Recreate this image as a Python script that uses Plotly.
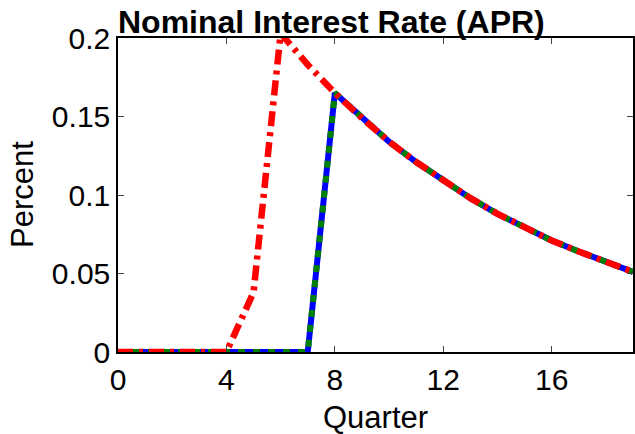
import plotly.graph_objects as go

quarters = list(range(20))
blue_vals = [0, 0, 0, 0, 0, 0, 0, 0, 0.165, 0.149, 0.134, 0.121, 0.109, 0.098,
             0.088, 0.079, 0.071, 0.064, 0.057, 0.051]
green_vals = list(blue_vals)
red_vals = [0, 0, 0, 0, 0, 0.038, 0.203, 0.183, 0.165, 0.149, 0.134, 0.121, 0.109,
            0.098, 0.088, 0.079, 0.071, 0.064, 0.057, 0.051]

x_ticks = [0, 4, 8, 12, 16]
y_ticks = [0, 0.05, 0.1, 0.15, 0.2]
y_ticktext = ["0", "0.05", "0.1", "0.15", "0.2"]

font_family = "Arial, Liberation Sans, sans-serif"

fig = go.Figure()
fig.add_trace(go.Scatter(x=quarters, y=blue_vals, mode="lines",
                         line=dict(color="#0000ff", width=6), showlegend=False))
fig.add_trace(go.Scatter(x=quarters, y=green_vals, mode="lines",
                         line=dict(color="#008000", width=6, dash="7px,8px"), showlegend=False))
fig.add_trace(go.Scatter(x=quarters, y=red_vals, mode="lines",
                         line=dict(color="#ff0000", width=6.5, dash="15px,6px,4px,6px"), showlegend=False))

fig.update_layout(
    width=635, height=434,
    margin=dict(l=118, r=2, t=38, b=82, autoexpand=False),
    paper_bgcolor="white", plot_bgcolor="white",
    font=dict(family=font_family, size=30, color="black"),
    annotations=[
        dict(text="<b>Nominal Interest Rate (APR)</b>", xref="paper", yref="paper",
             x=0, y=1, xanchor="left", yanchor="bottom", showarrow=False,
             xshift=-2, yshift=-4, font=dict(size=32, family=font_family)),
        dict(text="Percent", xref="paper", yref="paper", x=0, y=0.5,
             xanchor="center", yanchor="middle", xshift=-96, textangle=-90,
             showarrow=False, font=dict(size=31, family=font_family)),
        dict(text="Quarter", xref="paper", yref="paper", x=0.5, y=0,
             xanchor="center", yanchor="top", yshift=-46,
             showarrow=False, font=dict(size=31, family=font_family)),
    ],
)
fig.update_xaxes(range=[0, 19], tickvals=x_ticks, ticks="inside", ticklen=6, tickwidth=1,
                 showline=True, linecolor="black", linewidth=1.5, mirror="ticks",
                 showgrid=False, zeroline=False, automargin=False,
                 tickfont=dict(size=30))
fig.update_yaxes(range=[0, 0.2], tickvals=y_ticks, ticktext=y_ticktext, ticks="inside",
                 ticklen=6, tickwidth=1,
                 showline=True, linecolor="black", linewidth=1.5, mirror="ticks",
                 showgrid=False, zeroline=False, automargin=False,
                 tickfont=dict(size=30))

fig.write_html("out.html", config={"displayModeBar": False},
               post_script="document.body.style.margin='0';document.body.style.overflow='hidden';")
